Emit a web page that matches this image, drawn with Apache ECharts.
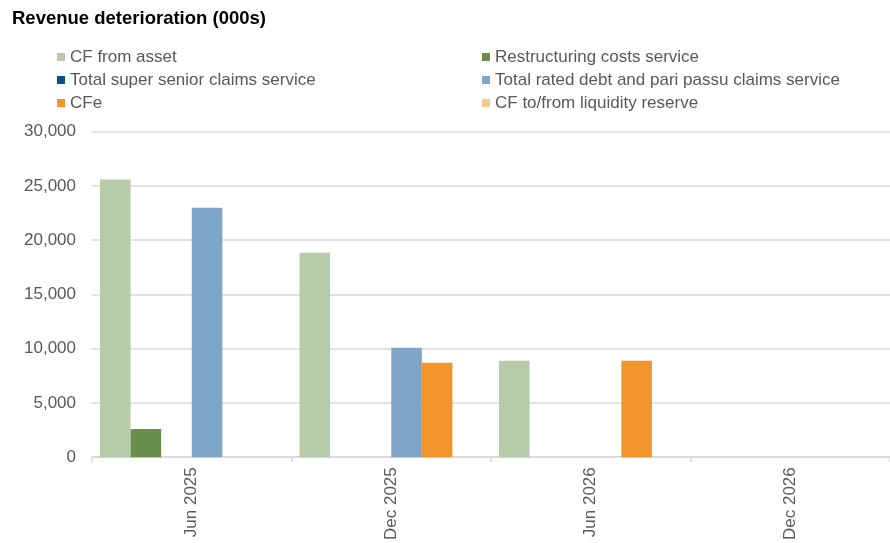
<!DOCTYPE html>
<html>
<head>
<meta charset="utf-8">
<script src="https://cdn.jsdelivr.net/npm/echarts@6/dist/echarts.min.js"></script>
<style>
html,body{margin:0;padding:0;background:#fff;}
#chart{width:890px;height:543px;}
</style>
</head>
<body>
<div id="chart"></div>
<script>
const categories = ['Jun 2025', 'Dec 2025', 'Jun 2026', 'Dec 2026'];
const seriesNames = [
  'CF from asset',
  'Restructuring costs service',
  'Total super senior claims service',
  'Total rated debt and pari passu claims service',
  'CFe',
  'CF to/from liquidity reserve'
];
const cfFromAsset = [25600, 18850, 8900, 0];
const restructuringCosts = [2600, 0, 0, 0];
const superSeniorClaims = [0, 0, 0, 0];
const ratedDebtClaims = [23000, 10100, 0, 0];
const cfe = [0, 8700, 8900, 0];
const liquidityReserve = [0, 0, 0, 0];
const yTicks = [0, 5000, 10000, 15000, 20000, 25000, 30000];

const seriesData = [cfFromAsset, restructuringCosts, superSeniorClaims, ratedDebtClaims, cfe, liquidityReserve];
const colors = ['#B8CBA9', '#6A8E4C', '#0E4D8E', '#7FA6C9', '#F2952A', '#FAC98F'];

const chart = echarts.init(document.getElementById('chart'), null, {renderer: 'canvas'});
const legendText = {color: '#595959', fontSize: 17, fontFamily: 'Liberation Sans, Arial, sans-serif', lineHeight: 17};
chart.setOption({
  animation: false,
  color: colors,
  title: {
    text: 'Revenue deterioration (000s)',
    left: 12, top: 9, padding: 0,
    textStyle: {fontSize: 18.5, fontWeight: 'bold', color: '#000', fontFamily: 'Liberation Sans, Arial, sans-serif'}
  },
  legend: [
    {
      data: [seriesNames[0], seriesNames[2], seriesNames[4]],
      orient: 'vertical', left: 57, top: 48.5,
      icon: 'rect', itemWidth: 8, itemHeight: 8, itemGap: 6,
      textStyle: legendText, padding: 0
    },
    {
      data: [seriesNames[1], seriesNames[3], seriesNames[5]],
      orient: 'vertical', left: 482, top: 48.5,
      icon: 'rect', itemWidth: 8, itemHeight: 8, itemGap: 6,
      textStyle: legendText, padding: 0
    }
  ],
  grid: {left: 92, right: 0, top: 131.7, bottom: 84, containLabel: false},
  xAxis: {
    type: 'category',
    data: categories,
    axisLine: {lineStyle: {color: '#D9D9D9', width: 1.5}},
    axisTick: {show: true, length: 5, lineStyle: {color: '#D9D9D9', width: 1.5}},
    axisLabel: {rotate: 90, margin: 10, color: '#595959', fontSize: 17, fontFamily: 'Liberation Sans, Arial, sans-serif'}
  },
  yAxis: {
    type: 'value',
    min: yTicks[0], max: yTicks[yTicks.length - 1], interval: yTicks[1] - yTicks[0],
    axisLine: {show: false},
    axisTick: {show: false},
    splitLine: {lineStyle: {color: '#D9D9D9', width: 1.5}},
    axisLabel: {
      margin: 16, color: '#595959', fontSize: 17, fontFamily: 'Liberation Sans, Arial, sans-serif',
      formatter: v => v.toLocaleString('en-US')
    }
  },
  series: seriesNames.map((name, i) => ({
    name: name,
    type: 'bar',
    data: seriesData[i],
    barGap: '0%',
    barCategoryGap: '8%',
    itemStyle: {color: colors[i]}
  }))
});
</script>
</body>
</html>
